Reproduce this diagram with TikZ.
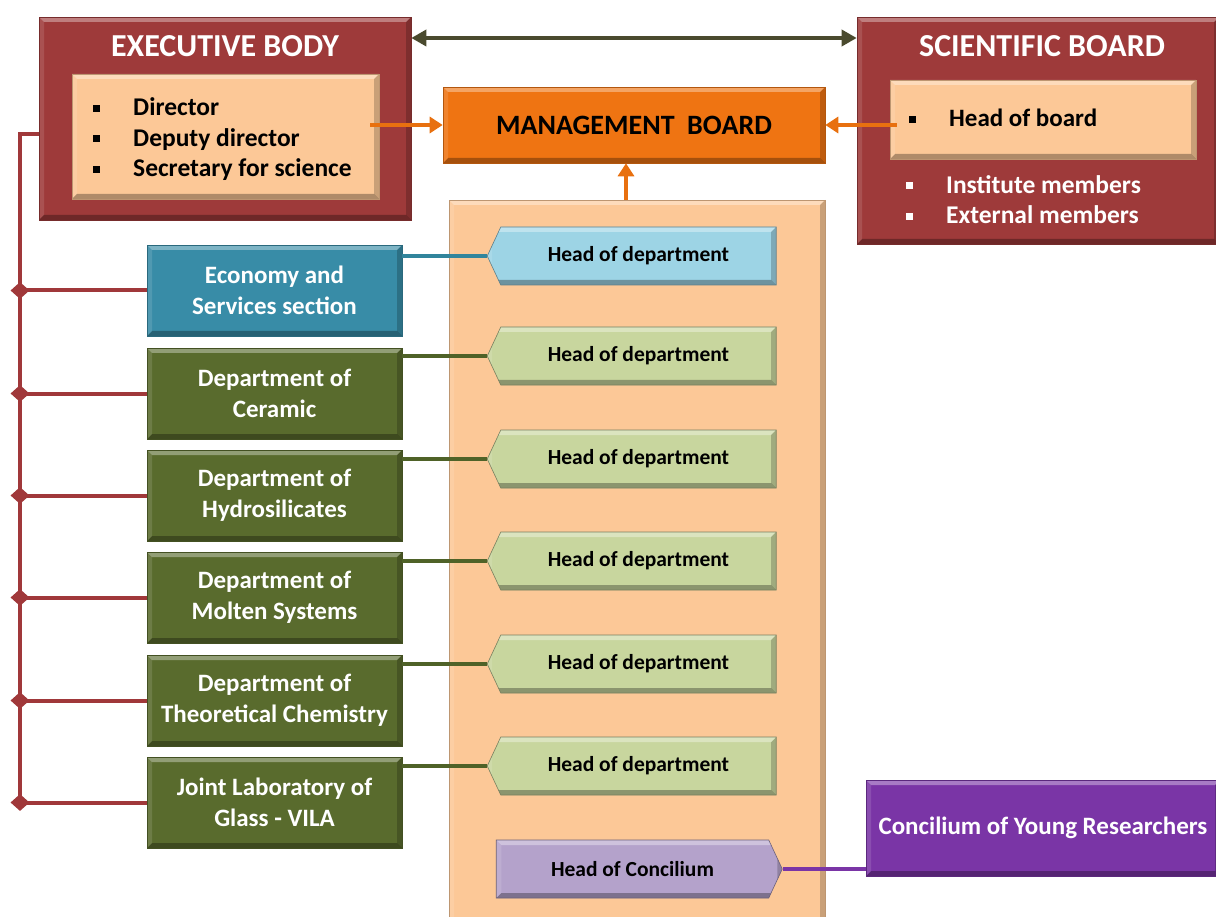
\documentclass[tikz,border=0pt]{standalone}
\usepackage{fontspec}
\setmainfont{Carlito}
\usetikzlibrary{shapes.symbols,shapes.geometric,arrows.meta}
\definecolor{bodyred}{HTML}{9E3A3A}
\definecolor{cpeach}{HTML}{FCC897}
\definecolor{mborange}{HTML}{EF7412}
\definecolor{cteal}{HTML}{388CA7}
\definecolor{cgreen}{HTML}{596B2D}
\definecolor{lblue}{HTML}{9DD4E5}
\definecolor{lgreen}{HTML}{C8D69E}
\definecolor{lilac}{HTML}{B4A2CB}
\definecolor{cpurple}{HTML}{7A35A6}
\definecolor{olivedark}{HTML}{4A4A2E}
\definecolor{linegreen}{HTML}{4F6228}
\definecolor{lineteal}{HTML}{31859C}
\definecolor{linered}{HTML}{A0383A}
\definecolor{arrorange}{HTML}{E8700F}
\newcommand\sqb[1]{\makebox[#1][l]{\rule[4pt]{7pt}{7pt}}}
\begin{document}
\begin{tikzpicture}[x=1pt,y=-1pt,
  bevel/.style={path picture={
    \fill[white,opacity=.35] (path picture bounding box.north west) -- (path picture bounding box.north east) -- ([xshift=-5pt,yshift=-5pt]path picture bounding box.north east) -- ([xshift=5pt,yshift=-5pt]path picture bounding box.north west) -- cycle;
    \fill[black,opacity=.3] (path picture bounding box.south west) -- (path picture bounding box.south east) -- ([xshift=-5pt,yshift=5pt]path picture bounding box.south east) -- ([xshift=5pt,yshift=5pt]path picture bounding box.south west) -- cycle;
    \fill[black,opacity=.2] (path picture bounding box.north east) -- (path picture bounding box.south east) -- ([xshift=-5pt,yshift=5pt]path picture bounding box.south east) -- ([xshift=-5pt,yshift=-5pt]path picture bounding box.north east) -- cycle;
    \fill[white,opacity=.12] (path picture bounding box.north west) -- (path picture bounding box.south west) -- ([xshift=5pt,yshift=5pt]path picture bounding box.south west) -- ([xshift=5pt,yshift=-5pt]path picture bounding box.north west) -- cycle;
  }},
  box/.style={rectangle, inner sep=0pt, bevel, draw=#1!75!black, fill=#1, line width=0.6pt},
  title/.style={text=white, inner sep=0pt, font=\bfseries\fontsize{32}{36}\selectfont},
  lbox/.style={box=#1, minimum width=255pt, minimum height=91pt, text=white, align=center, font=\bfseries\fontsize{25}{31}\selectfont},
  hd/.style={signal, signal to=west, signal pointer angle=130, inner sep=0pt, minimum width=289pt, minimum height=58pt, fill=#1, draw=#1!60!black, line width=0.6pt, bevel, font=\bfseries\fontsize{21.5}{24}\selectfont},
  redl/.style={draw=linered, line width=4pt},
  conn/.style={draw=#1, line width=3.5pt},
  orarrow/.style={draw=arrorange, line width=3.5pt, -{Triangle[width=16pt,length=13pt]}},
  dmd/.style={diamond, fill=linered, inner sep=0pt, minimum width=19pt, minimum height=17pt}
]
\useasboundingbox (0,0) rectangle (1216,917);

% Executive body
\node[box=bodyred, minimum width=372pt, minimum height=203pt] (exec) at (225,118.5) {};
\node[title] (exectitle) at (225,46) {EXECUTIVE BODY};
\node[box=cpeach, minimum width=307pt, minimum height=125pt] (exin) at (225.5,136.5) {};
\node[anchor=west, align=left, inner sep=0pt, font=\bfseries\fontsize{25.5}{30.5}\selectfont] (exlist) at (93,139.5)
  {\sqb{40pt}Director\\\sqb{40pt}Deputy director\\\sqb{40pt}Secretary for science};

% Management board
\node[box=mborange, minimum width=382pt, minimum height=76pt, font=\bfseries\fontsize{28}{32}\selectfont] (mb) at (634,125) {MANAGEMENT\ \ BOARD};

% Scientific board
\node[box=bodyred, minimum width=362pt, minimum height=227pt] (sci) at (1038,130.5) {};
\node[title] (scititle) at (1042,46) {SCIENTIFIC BOARD};
\node[box=cpeach, minimum width=306pt, minimum height=79pt] (sciin) at (1043,119.5) {};
\node[anchor=west, inner sep=0pt, font=\bfseries\fontsize{25}{30}\selectfont] (hob) at (909,118) {\sqb{40pt}Head of board};
\node[anchor=west, align=left, inner sep=0pt, text=white, font=\bfseries\fontsize{25.5}{30.5}\selectfont] (scilist) at (906,199.5)
  {\sqb{40pt}Institute members\\\sqb{40pt}External members};

% Double arrow
\coordinate (da) at (0,38);
\draw[draw=olivedark, line width=3.5pt, {Triangle[width=16pt,length=15pt]}-{Triangle[width=16pt,length=15pt]}] (exec.east |- da) -- (sci.west |- da);

% Column
\node[box=cpeach, minimum width=376pt, minimum height=730pt] (col) at (637,565) {};

% Heads of department
\node[hd=lblue] (hd1) at (638.5,256) {Head of department};
\node[hd=lgreen] (hd2) at (638.5,356) {Head of department};
\node[hd=lgreen] (hd3) at (638.5,459) {Head of department};
\node[hd=lgreen] (hd4) at (638.5,561) {Head of department};
\node[hd=lgreen] (hd5) at (638.5,664) {Head of department};
\node[hd=lgreen] (hd6) at (638.5,766) {Head of department};
\node[hd=lilac, signal to=east, minimum width=286pt] (hc) at (632.5,869) {Head of Concilium};

% Left boxes
\node[lbox=cteal] (econ) at (274.5,290.5) {Economy and\\Services section};
\node[lbox=cgreen] (cer) at (274.5,393.5) {Department of\\Ceramic};
\node[lbox=cgreen] (hyd) at (274.5,495.5) {Department of\\Hydrosilicates};
\node[lbox=cgreen] (mol) at (274.5,597.5) {Department of\\Molten Systems};
\node[lbox=cgreen] (the) at (274.5,700.5) {Department of\\Theoretical Chemistry};
\node[lbox=cgreen] (vila) at (274.5,802.5) {Joint Laboratory of\\Glass - VILA};

% Concilium
\node[box=cpurple, minimum width=354pt, minimum height=96pt, text=white, font=\bfseries\fontsize{25}{28}\selectfont] (cyr) at (1043,828) {Concilium of Young Researchers};

% Connectors to heads
\draw[conn=lineteal] (econ.east |- hd1.west) -- (hd1.west);
\draw[conn=linegreen] (cer.east |- hd2.west) -- (hd2.west);
\draw[conn=linegreen] (hyd.east |- hd3.west) -- (hd3.west);
\draw[conn=linegreen] (mol.east |- hd4.west) -- (hd4.west);
\draw[conn=linegreen] (the.east |- hd5.west) -- (hd5.west);
\draw[conn=linegreen] (vila.east |- hd6.west) -- (hd6.west);
\draw[conn=cpurple] (hc.east) -- (cyr.west |- hc.east);

% Orange arrows
\draw[orarrow] ([xshift=-9pt]exin.east |- mb.west) -- (mb.west);
\draw[orarrow] ([xshift=7pt]sciin.west |- mb.east) -- (mb.east);
\coordinate (up) at (626,0);
\draw[orarrow] (col.north -| up) -- (mb.south -| up);

% Red spine
\coordinate (sp) at (20,134);
\draw[redl] (exec.west |- sp) -- (sp) -- (sp |- vila.west);
\foreach \b in {econ,cer,hyd,mol,the,vila}{
  \draw[redl] (sp |- \b.west) -- (\b.west);
  \node[dmd] (d\b) at (sp |- \b.west) {};
}
\end{tikzpicture}
\end{document}
